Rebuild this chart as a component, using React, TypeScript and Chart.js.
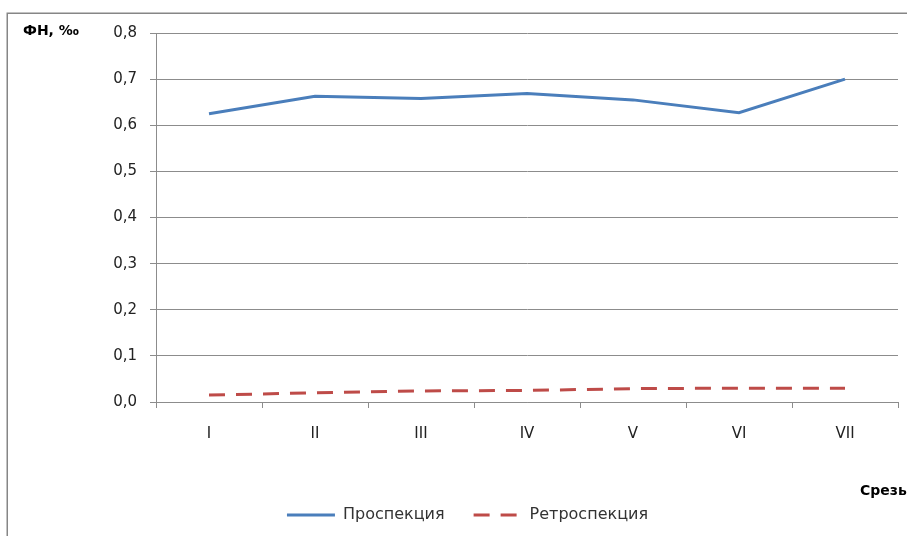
import React, { useEffect, useRef } from 'react';
import { Chart, registerables } from 'chart.js';

Chart.register(...registerables);

const categories = ['I', 'II', 'III', 'IV', 'V', 'VI', 'VII'];
const prospection = [0.625, 0.663, 0.658, 0.669, 0.655, 0.627, 0.7];
const retrospection = [0.015, 0.02, 0.024, 0.025, 0.029, 0.03, 0.03];
const seriesNames = ['Проспекция', 'Ретроспекция'];
const yTickLabels = ['0,0', '0,1', '0,2', '0,3', '0,4', '0,5', '0,6', '0,7', '0,8'];
const yTitle = 'ФН, ‰';
const xTitle = 'Срезы';

const W = 932;
const H = 570;
const FONT = '"DejaVu Sans", Verdana, sans-serif';
const GRID = '#8c8c8c';

const decor = {
  id: 'decor',
  beforeDraw(chart: any) {
    const ctx = chart.ctx;
    ctx.save();
    ctx.fillStyle = '#ffffff';
    ctx.fillRect(0, 0, W, H);
    ctx.strokeStyle = '#868686';
    ctx.lineWidth = 1.5;
    ctx.strokeRect(7.25, 13.25, W - 14, H - 26);
    ctx.restore();
  },
  afterDraw(chart: any) {
    const ctx = chart.ctx;
    ctx.save();
    ctx.font = 'bold 14px ' + FONT;
    ctx.fillStyle = '#000000';
    ctx.textBaseline = 'middle';
    ctx.textAlign = 'left';
    ctx.fillText(yTitle, 23, 31);
    ctx.fillText(xTitle, 860, 491);
    ctx.restore();
  },
};

export default function App() {
  const ref = useRef<HTMLCanvasElement>(null);

  useEffect(() => {
    if (!ref.current) return;
    const chart = new Chart(ref.current, {
      type: 'line',
      data: {
        labels: categories,
        datasets: [
          {
            label: seriesNames[0],
            data: prospection,
            borderColor: '#4a7ebb',
            backgroundColor: '#4a7ebb',
            borderWidth: 3,
            pointRadius: 0,
            pointHoverRadius: 0,
            tension: 0,
            fill: false,
          },
          {
            label: seriesNames[1],
            data: retrospection,
            borderColor: '#be4b48',
            backgroundColor: '#be4b48',
            borderWidth: 3,
            borderDash: [16, 11],
            pointRadius: 0,
            pointHoverRadius: 0,
            tension: 0,
            fill: false,
          },
        ],
      },
      plugins: [decor],
      options: {
        responsive: false,
        animation: false,
        devicePixelRatio: 1,
        layout: { padding: { left: 37, right: 34, top: 33, bottom: 37 } },
        plugins: {
          tooltip: { enabled: false },
          title: { display: false },
          legend: {
            position: 'bottom',
            labels: {
              usePointStyle: true,
              pointStyle: 'line',
              pointStyleWidth: 48,
              padding: 29,
              color: '#333333',
              font: { family: FONT, size: 16 },
              generateLabels: (c: any) =>
                c.data.datasets.map((ds: any, i: number) => ({
                  text: ds.label,
                  fillStyle: ds.borderColor,
                  strokeStyle: ds.borderColor,
                  fontColor: '#333333',
                  lineWidth: 3,
                  lineDash: ds.borderDash || [],
                  lineDashOffset: 0,
                  lineCap: 'butt',
                  lineJoin: 'miter',
                  pointStyle: 'line',
                  rotation: 0,
                  hidden: false,
                  datasetIndex: i,
                })),
            },
          },
        },
        scales: {
          x: {
            type: 'category',
            offset: true,
            grid: {
              offset: true,
              drawOnChartArea: false,
              drawTicks: true,
              tickLength: 6,
              color: GRID,
            },
            border: { display: true, color: GRID, width: 1 },
            ticks: {
              color: '#222222',
              font: { family: FONT, size: 15 },
              padding: 17,
              maxRotation: 0,
              autoSkip: false,
            },
            afterFit: (s: any) => {
              s.height = 76;
            },
          },
          y: {
            min: 0,
            max: 0.8,
            ticks: {
              stepSize: 0.1,
              color: '#222222',
              font: { family: FONT, size: 15 },
              padding: 13,
              callback: (v: any) => yTickLabels[Math.round(Number(v) * 10)],
            },
            grid: { color: GRID, tickLength: 6, drawTicks: true },
            border: { display: true, color: GRID, width: 1 },
            afterFit: (s: any) => {
              s.width = 119;
            },
          },
        },
      },
    } as any);
    return () => chart.destroy();
  }, []);

  return (
    <div
      style={{
        position: 'fixed',
        left: 0,
        top: 0,
        width: 907,
        height: 536,
        overflow: 'hidden',
        background: '#ffffff',
      }}
    >
      <canvas ref={ref} width={W} height={H} style={{ width: W, height: H, display: 'block' }} />
    </div>
  );
}
